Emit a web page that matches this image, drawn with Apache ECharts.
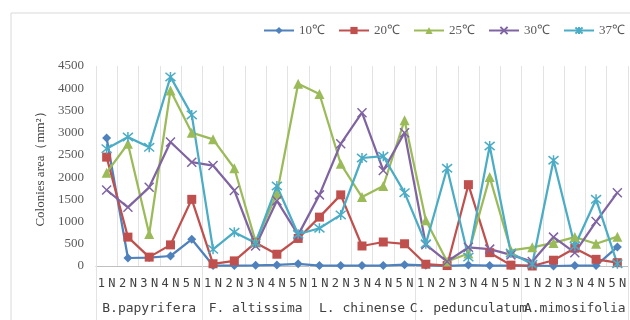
<!DOCTYPE html>
<html>
<head>
<meta charset="utf-8">
<script src="https://cdn.jsdelivr.net/npm/echarts@6/dist/echarts.min.js"></script>
<style>
    html, body { margin: 0; padding: 0; background: #fff; }
    #chart { width: 630px; height: 320px; }
</style>
</head>
<body>
<div id="chart"></div>
<script>
// Colony area by temperature, five species x five strains
const categories = [
    "1N", "2N", "3N", "4N", "5N",
    "1N", "2N", "3N", "4N", "5N",
    "1N", "2N", "3N", "4N", "5N",
    "1N", "2N", "3N", "4N", "5N",
    "1N", "2N", "3N", "4N", "5N",
];
const species = ["B.papyrifera", "F. altissima", "L. chinense", "C. pedunculatum", "A.mimosifolia"];
const seriesNames = ["10℃", "20℃", "25℃", "30℃", "37℃"];

const t10 = [2880, 180, 190, 225, 600, 10, 10, 15, 25, 50, 10, 10, 10, 10, 30, 15, 5, 20, 10, 10, 10, 0, 10, 10, 430];
const t20 = [2450, 650, 200, 475, 1500, 50, 115, 525, 265, 620, 1100, 1600, 450, 540, 500, 40, 10, 1830, 300, 20, 0, 130, 400, 150, 75];
const t25 = [2100, 2750, 720, 3950, 3000, 2850, 2200, 550, 1620, 4100, 3870, 2300, 1550, 1800, 3280, 1030, 100, 280, 2000, 350, 420, 520, 650, 500, 660];
const t30 = [1710, 1320, 1770, 2790, 2335, 2260, 1700, 450, 1470, 700, 1600, 2750, 3450, 2150, 3000, 480, 100, 420, 380, 250, 100, 650, 300, 1000, 1650];
const t37 = [2640, 2900, 2670, 4255, 3400, 375, 760, 520, 1800, 715, 850, 1150, 2430, 2470, 1650, 500, 2200, 200, 2700, 290, 40, 2380, 450, 1500, 50];

const colors = ["#4F81BD", "#C0504D", "#9BBB59", "#8064A2", "#4BACC6"];
const symbols = [
    "diamond",
    "rect",
    "triangle",
    "path://M0,0L10,10M10,0L0,10",
    "path://M0,0L10,10M10,0L0,10M5,-1L5,11",
];
const symbolSizes = [9, 9, 10, 9, 10];

const serif = "'Liberation Serif', 'Times New Roman', serif";
const mono = "'DejaVu Sans Mono', monospace";

const chart = echarts.init(document.getElementById("chart"), null, { renderer: "canvas" });

function markerStyle(i) {
    return symbols[i].startsWith("path://")
        ? { color: "transparent", borderColor: colors[i], borderWidth: 1.5 }
        : { color: colors[i], borderColor: colors[i], borderWidth: 0 };
}

function makeSeries(name, data, i) {
    return {
        name,
        type: "line",
        data,
        symbol: symbols[i],
        symbolSize: symbolSizes[i],
        showAllSymbol: true,
        lineStyle: { color: colors[i], width: 2.25 },
        itemStyle: markerStyle(i),
        emphasis: { disabled: true },
        animation: false,
    };
}

const allSeries = [t10, t20, t25, t30, t37];

chart.setOption({
    backgroundColor: "#fff",
    animation: false,
    graphic: [
        {
            type: "rect",
            shape: { x: 11, y: 13, width: 640, height: 330 },
            style: { fill: "none", stroke: "#d9d9d9", lineWidth: 1 },
            silent: true,
        },
    ],
    legend: {
        left: 258,
        top: 19,
        itemWidth: 30,
        itemHeight: 9,
        itemGap: 13,
        textStyle: { fontFamily: serif, fontSize: 13, color: "#595959" },
        data: seriesNames,
    },
    grid: { left: 96, right: 2, top: 66, bottom: 54, containLabel: false },
    xAxis: [
        {
            type: "category",
            data: categories,
            boundaryGap: true,
            axisLine: { show: true, lineStyle: { color: "#bfbfbf", width: 1 } },
            axisTick: { show: false },
            splitLine: { show: true, interval: 0, lineStyle: { color: "#e3e3e3", width: 1 } },
            axisLabel: {
                interval: 0,
                margin: 12,
                formatter: (v) => v.split("").map((c) => `{c|${c}}`).join(""),
                rich: {
                    c: { width: 10.65, align: "center", fontFamily: mono, fontSize: 12, color: "#404040" },
                },
            },
        },
        {
            type: "category",
            data: species,
            position: "bottom",
            boundaryGap: true,
            axisLine: { show: false },
            axisTick: { show: true, interval: 0, length: 56, lineStyle: { color: "#e3e3e3" } },
            splitLine: { show: false },
            axisLabel: {
                interval: 0,
                margin: 36,
                fontFamily: mono,
                fontSize: 13,
                color: "#404040",
            },
        },
    ],
    yAxis: {
        type: "value",
        min: 0,
        max: 4500,
        interval: 500,
        name: "Colonies area（mm²）",
        nameLocation: "middle",
        nameGap: 48,
        nameTextStyle: { fontFamily: serif, fontSize: 13, color: "#404040" },
        axisLine: { show: false },
        axisTick: { show: false },
        splitLine: { show: false },
        axisLabel: {
            fontFamily: serif,
            fontSize: 13,
            color: "#595959",
            margin: 12,
            formatter: (v) => String(v),
        },
    },
    series: allSeries.map((d, i) => makeSeries(seriesNames[i], d, i)),
});
</script>
</body>
</html>
